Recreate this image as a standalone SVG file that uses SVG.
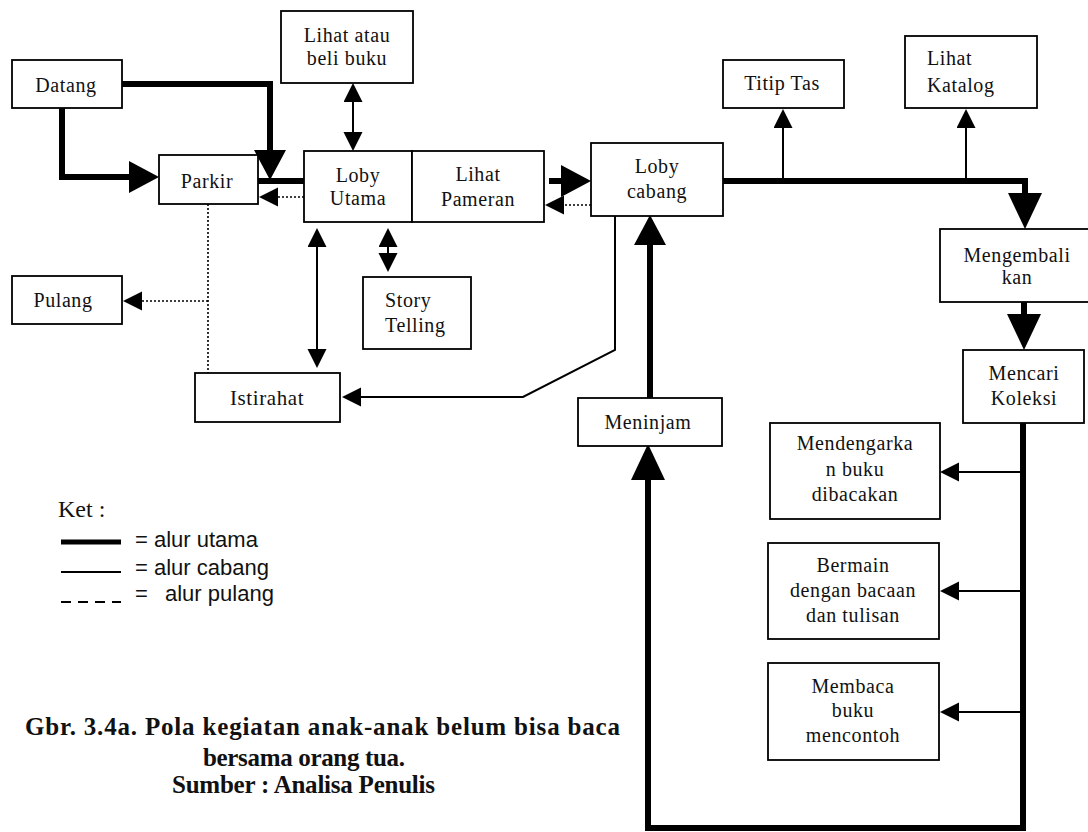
<svg xmlns="http://www.w3.org/2000/svg" width="1088" height="832" viewBox="0 0 1088 832">
  <style>
    .box { fill: #fff; stroke: #000; stroke-width: 1.8; }
    .lbl { font-family: "Liberation Serif", "Times New Roman", serif; font-size: 20px; letter-spacing: 0.6px; fill: #111; text-anchor: middle; }
    .lbl-l { text-anchor: start; }
    .main { fill: none; stroke: #000; stroke-width: 6; stroke-linejoin: miter; }
    .branch { fill: none; stroke: #000; stroke-width: 2; }
    .home { fill: none; stroke: #000; stroke-width: 1.6; stroke-dasharray: 2 2; }
    .legend { font-family: "Liberation Sans", Arial, sans-serif; font-size: 22px; fill: #111; }
    .caption { font-family: "Liberation Serif", "Times New Roman", serif; font-size: 25px; font-weight: bold; fill: #111; }
  </style>
  <defs>
    <marker id="bigHead" markerUnits="userSpaceOnUse" markerWidth="32" markerHeight="34" refX="0" refY="16" orient="auto">
      <path d="M0,0 L30,16 L0,32 z" fill="#000"/>
    </marker>
    <marker id="tallHead" markerUnits="userSpaceOnUse" markerWidth="38" markerHeight="36" refX="0" refY="17" orient="auto">
      <path d="M0,0 L36,17 L0,34 z" fill="#000"/>
    </marker>
    <marker id="smallHead" markerUnits="userSpaceOnUse" markerWidth="21" markerHeight="21" refX="0" refY="9.5" orient="auto-start-reverse">
      <path d="M0,0 L19,9.5 L0,19 z" fill="#000"/>
    </marker>
  </defs>

  <rect width="1088" height="832" fill="#fff"/>

  <!-- connectors -->
  <g id="connectors">
    <!-- alur utama -->
    <path class="main" d="M122,84 H270 V150" marker-end="url(#bigHead)"/>
    <path class="main" d="M62,108 V177 H129" marker-end="url(#bigHead)"/>
    <path class="main" d="M258,181 H304"/>
    <path class="main" d="M549,181 H561" marker-end="url(#bigHead)"/>
    <path class="main" d="M723,181 H1025 V193" marker-end="url(#tallHead)"/>
    <path class="main" d="M1024,302 V314" marker-end="url(#tallHead)"/>
    <path class="main" d="M1023,423 V828 H648 V480" marker-end="url(#tallHead)"/>
    <path class="main" d="M650,398 V245" marker-end="url(#bigHead)"/>

    <!-- alur cabang -->
    <path class="branch" d="M353,102 V132" marker-start="url(#smallHead)" marker-end="url(#smallHead)"/>
    <path class="branch" d="M317,247 V349" marker-start="url(#smallHead)" marker-end="url(#smallHead)"/>
    <path class="branch" d="M388,247 V253" marker-start="url(#smallHead)" marker-end="url(#smallHead)"/>
    <path class="branch" d="M615,216 V350 L523,397 H361" marker-end="url(#smallHead)"/>
    <path class="branch" d="M783,181 V128" marker-end="url(#smallHead)"/>
    <path class="branch" d="M966,181 V128" marker-end="url(#smallHead)"/>
    <path class="branch" d="M1023,472 H959" marker-end="url(#smallHead)"/>
    <path class="branch" d="M1023,591 H959" marker-end="url(#smallHead)"/>
    <path class="branch" d="M1023,712 H959" marker-end="url(#smallHead)"/>

    <!-- alur pulang -->
    <path class="home" d="M304,197 H278" marker-end="url(#smallHead)"/>
    <path class="home" d="M591,205 H564" marker-end="url(#smallHead)"/>
    <path class="home" d="M208,204 V373"/>
    <path class="home" d="M208,301 H142" marker-end="url(#smallHead)"/>
  </g>

  <!-- nodes -->
  <g id="datang">
    <rect class="box" x="12" y="60" width="110" height="48"/>
    <text class="lbl" x="66" y="92">Datang</text>
  </g>
  <g id="parkir">
    <rect class="box" x="159" y="155" width="99" height="49"/>
    <text class="lbl" x="207" y="188">Parkir</text>
  </g>
  <g id="lihat-beli-buku">
    <rect class="box" x="281" y="11" width="132" height="72"/>
    <text class="lbl" x="347" y="42">Lihat atau</text>
    <text class="lbl" x="347" y="65">beli buku</text>
  </g>
  <g id="loby-utama">
    <rect class="box" x="304" y="151" width="108" height="71"/>
    <text class="lbl" x="358" y="182">Loby</text>
    <text class="lbl" x="358" y="205">Utama</text>
  </g>
  <g id="lihat-pameran">
    <rect class="box" x="412" y="151" width="132" height="71"/>
    <text class="lbl" x="478" y="181">Lihat</text>
    <text class="lbl" x="478" y="206">Pameran</text>
  </g>
  <g id="loby-cabang">
    <rect class="box" x="591" y="143" width="132" height="73"/>
    <text class="lbl" x="657" y="173">Loby</text>
    <text class="lbl" x="657" y="198">cabang</text>
  </g>
  <g id="story-telling">
    <rect class="box" x="363" y="277" width="108" height="72"/>
    <text class="lbl lbl-l" x="385" y="307">Story</text>
    <text class="lbl lbl-l" x="385" y="332">Telling</text>
  </g>
  <g id="pulang">
    <rect class="box" x="12" y="276" width="110" height="48"/>
    <text class="lbl" x="63" y="307">Pulang</text>
  </g>
  <g id="istirahat">
    <rect class="box" x="195" y="373" width="145" height="49"/>
    <text class="lbl" x="267" y="405" style="font-size:21px">Istirahat</text>
  </g>
  <g id="titip-tas">
    <rect class="box" x="723" y="60" width="121" height="48"/>
    <text class="lbl" x="782" y="90">Titip Tas</text>
  </g>
  <g id="lihat-katalog">
    <rect class="box" x="905" y="36" width="132" height="72"/>
    <text class="lbl lbl-l" x="927" y="65">Lihat</text>
    <text class="lbl lbl-l" x="927" y="92">Katalog</text>
  </g>
  <g id="mengembalikan">
    <rect class="box" x="940" y="229" width="160" height="73"/>
    <text class="lbl" x="1017" y="262">Mengembali</text>
    <text class="lbl" x="1017" y="284">kan</text>
  </g>
  <g id="mencari-koleksi">
    <rect class="box" x="963" y="350" width="121" height="73"/>
    <text class="lbl" x="1024" y="380">Mencari</text>
    <text class="lbl" x="1024" y="405">Koleksi</text>
  </g>
  <g id="meninjam">
    <rect class="box" x="578" y="398" width="144" height="48"/>
    <text class="lbl" x="648" y="429">Meninjam</text>
  </g>
  <g id="mendengarkan">
    <rect class="box" x="770" y="423" width="170" height="96"/>
    <text class="lbl" x="855" y="450">Mendengarka</text>
    <text class="lbl" x="855" y="476">n buku</text>
    <text class="lbl" x="855" y="501">dibacakan</text>
  </g>
  <g id="bermain">
    <rect class="box" x="768" y="543" width="171" height="96"/>
    <text class="lbl" x="853" y="572">Bermain</text>
    <text class="lbl" x="853" y="597">dengan bacaan</text>
    <text class="lbl" x="853" y="622">dan tulisan</text>
  </g>
  <g id="membaca">
    <rect class="box" x="768" y="663" width="171" height="97"/>
    <text class="lbl" x="853" y="693">Membaca</text>
    <text class="lbl" x="853" y="717">buku</text>
    <text class="lbl" x="853" y="742">mencontoh</text>
  </g>

  <!-- legend -->
  <g id="legend">
    <text x="58" y="517" style="font-family:'Liberation Serif','Times New Roman',serif;font-size:24px;fill:#111">Ket :</text>
    <line x1="61" y1="542" x2="121" y2="542" stroke="#000" stroke-width="5"/>
    <line x1="61" y1="572" x2="121" y2="572" stroke="#000" stroke-width="1.8"/>
    <line x1="61" y1="602" x2="121" y2="602" stroke="#000" stroke-width="2" stroke-dasharray="10 7"/>
    <text class="legend" x="135" y="547">= alur utama</text>
    <text class="legend" x="135" y="575">= alur cabang</text>
    <text class="legend" x="135" y="601">=<tspan x="165">alur pulang</tspan></text>
  </g>

  <!-- caption -->
  <g id="caption">
    <text class="caption" x="25" y="735" textLength="595" lengthAdjust="spacing">Gbr. 3.4a. Pola kegiatan anak-anak belum bisa baca</text>
    <text class="caption" x="203" y="766" textLength="202" lengthAdjust="spacing">bersama orang tua.</text>
    <text class="caption" x="172" y="793" textLength="263" lengthAdjust="spacing">Sumber : Analisa Penulis</text>
  </g>
</svg>
